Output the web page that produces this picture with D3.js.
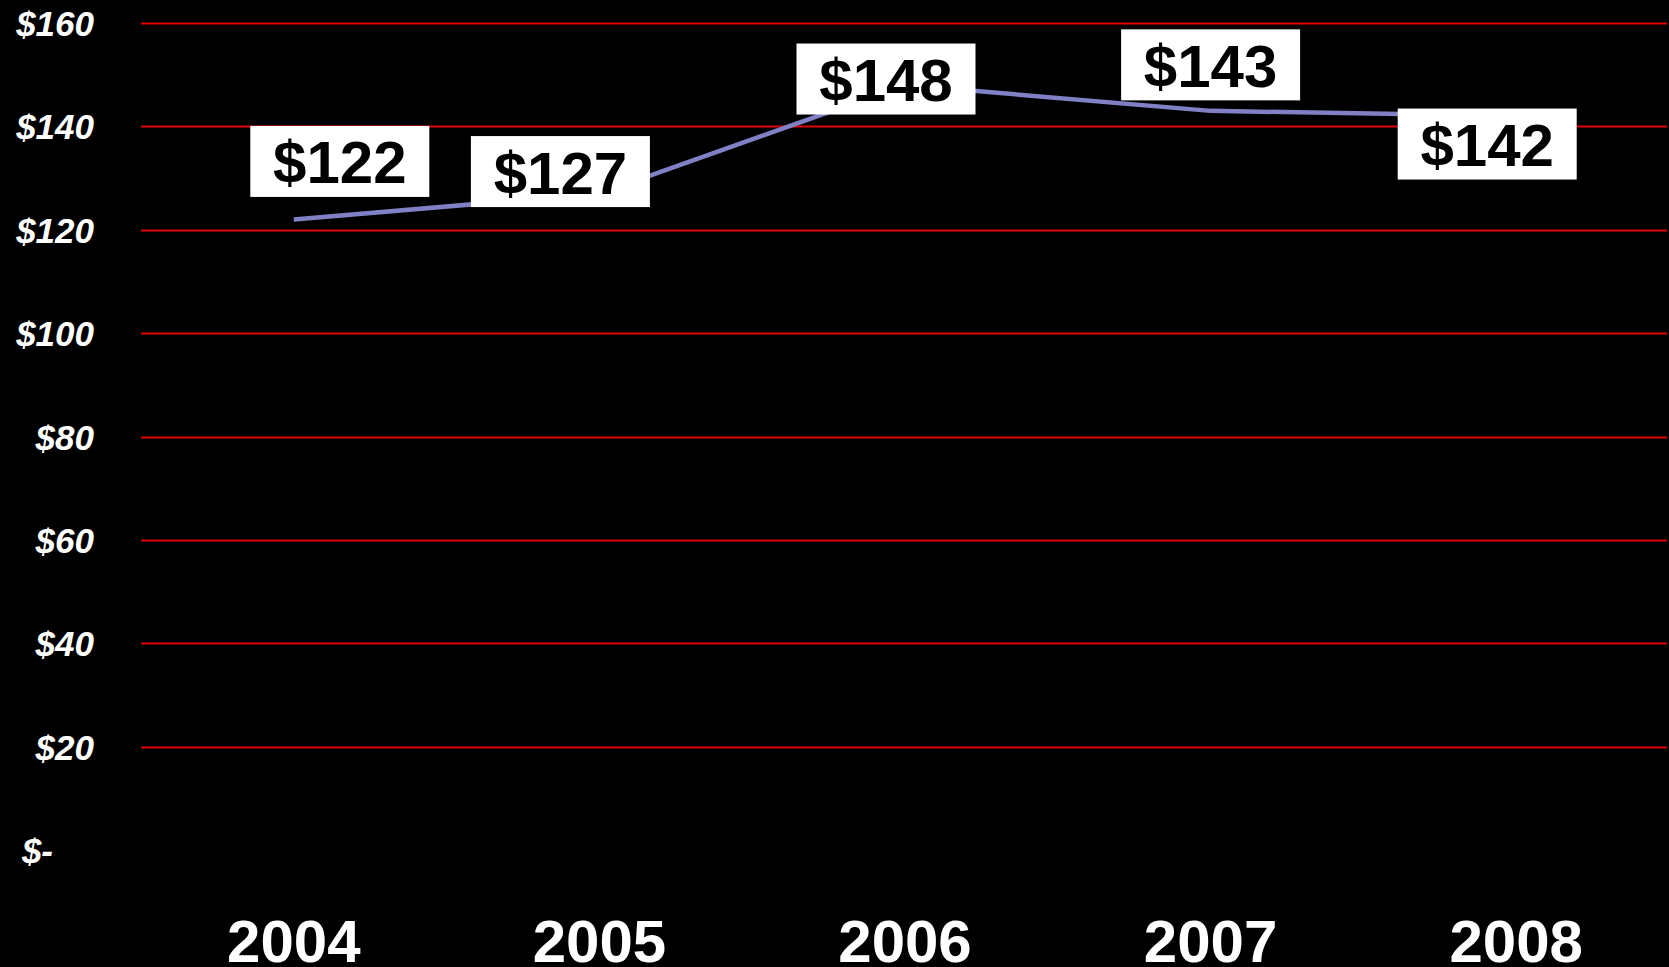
<!DOCTYPE html>
<html>
<head>
<meta charset="utf-8">
<script src="https://cdn.jsdelivr.net/npm/d3@7"></script>
<style>
  html, body { margin: 0; padding: 0; background: #000; }
  svg { display: block; }
</style>
</head>
<body>
<svg id="chart" width="1669" height="967"></svg>
<script>
// Average price per year
const years = ["2004", "2005", "2006", "2007", "2008"];
const prices = [122, 127, 148, 143, 142];
const yTicks = [0, 20, 40, 60, 80, 100, 120, 140, 160];

// Where each value box sits relative to its point (dx, dy of box centre)
const labelOffsets = [[46, -58], [-39, -22], [-19, -6], [0, -46], [-29, 28]];

const W = 1669, H = 967;
const plot = { left: 141, right: 1667, top: 23, bottom: 850 };

const svg = d3.select("#chart");
svg.append("rect").attr("width", W).attr("height", H).attr("fill", "#000");

const x = d3.scaleBand().domain(years).range([plot.left, 1669]);
const y = d3.scaleLinear().domain([0, 160]).range([plot.bottom, plot.top]);

// Horizontal grid lines (none on the zero line)
svg.append("g")
  .selectAll("line")
  .data(yTicks.filter(d => d > 0))
  .join("line")
  .attr("x1", plot.left)
  .attr("x2", plot.right)
  .attr("y1", d => Math.round(y(d)) + 0.5)
  .attr("y2", d => Math.round(y(d)) + 0.5)
  .attr("stroke", "#e00000")
  .attr("stroke-width", 2);

// Value axis labels
const yAxis = d3.axisLeft(y)
  .tickValues(yTicks)
  .tickSize(0)
  .tickPadding(0)
  .tickFormat(d => d === 0 ? "$-" : "$" + d);

const gy = svg.append("g")
  .attr("transform", "translate(94,0)")
  .call(yAxis);
gy.select(".domain").remove();
gy.selectAll("text")
  .attr("fill", "#fff")
  .attr("font-family", "Liberation Sans, Arial, sans-serif")
  .attr("font-size", 35)
  .attr("font-weight", "bold")
  .attr("font-style", "italic")
  .attr("dy", "0.36em")
  .attr("x", d => d === 0 ? -41 : 0);

// Year labels
const xAxis = d3.axisBottom(x).tickSize(0).tickPadding(0);
const gx = svg.append("g")
  .attr("transform", "translate(0,962)")
  .call(xAxis);
gx.select(".domain").remove();
gx.selectAll("text")
  .attr("fill", "#fff")
  .attr("font-family", "Liberation Sans, Arial, sans-serif")
  .attr("font-size", 60)
  .attr("font-weight", "bold")
  .attr("dy", 0)
  .attr("y", 0);

// Price line
const pts = years.map((yr, i) => ({
  year: yr,
  value: prices[i],
  px: x(yr) + x.bandwidth() / 2,
  py: y(prices[i])
}));

const line = d3.line().x(d => d.px).y(d => d.py);
svg.append("path")
  .datum(pts)
  .attr("d", line)
  .attr("fill", "none")
  .attr("stroke", "#8080c4")
  .attr("stroke-width", 4.5)
  .attr("stroke-linejoin", "round");

// Value boxes
const boxW = 179, boxH = 71;
const labels = svg.append("g")
  .selectAll("g")
  .data(pts)
  .join("g")
  .attr("transform", (d, i) => {
    const cx = d.px + labelOffsets[i][0];
    const cy = d.py + labelOffsets[i][1];
    return `translate(${cx},${cy})`;
  });

labels.append("rect")
  .attr("x", -boxW / 2)
  .attr("y", -boxH / 2)
  .attr("width", boxW)
  .attr("height", boxH)
  .attr("fill", "#fff");

labels.append("text")
  .attr("text-anchor", "middle")
  .attr("y", 22)
  .attr("font-family", "Liberation Sans, Arial, sans-serif")
  .attr("font-size", 60)
  .attr("font-weight", "bold")
  .attr("fill", "#000")
  .text(d => "$" + d.value);
</script>
</body>
</html>
